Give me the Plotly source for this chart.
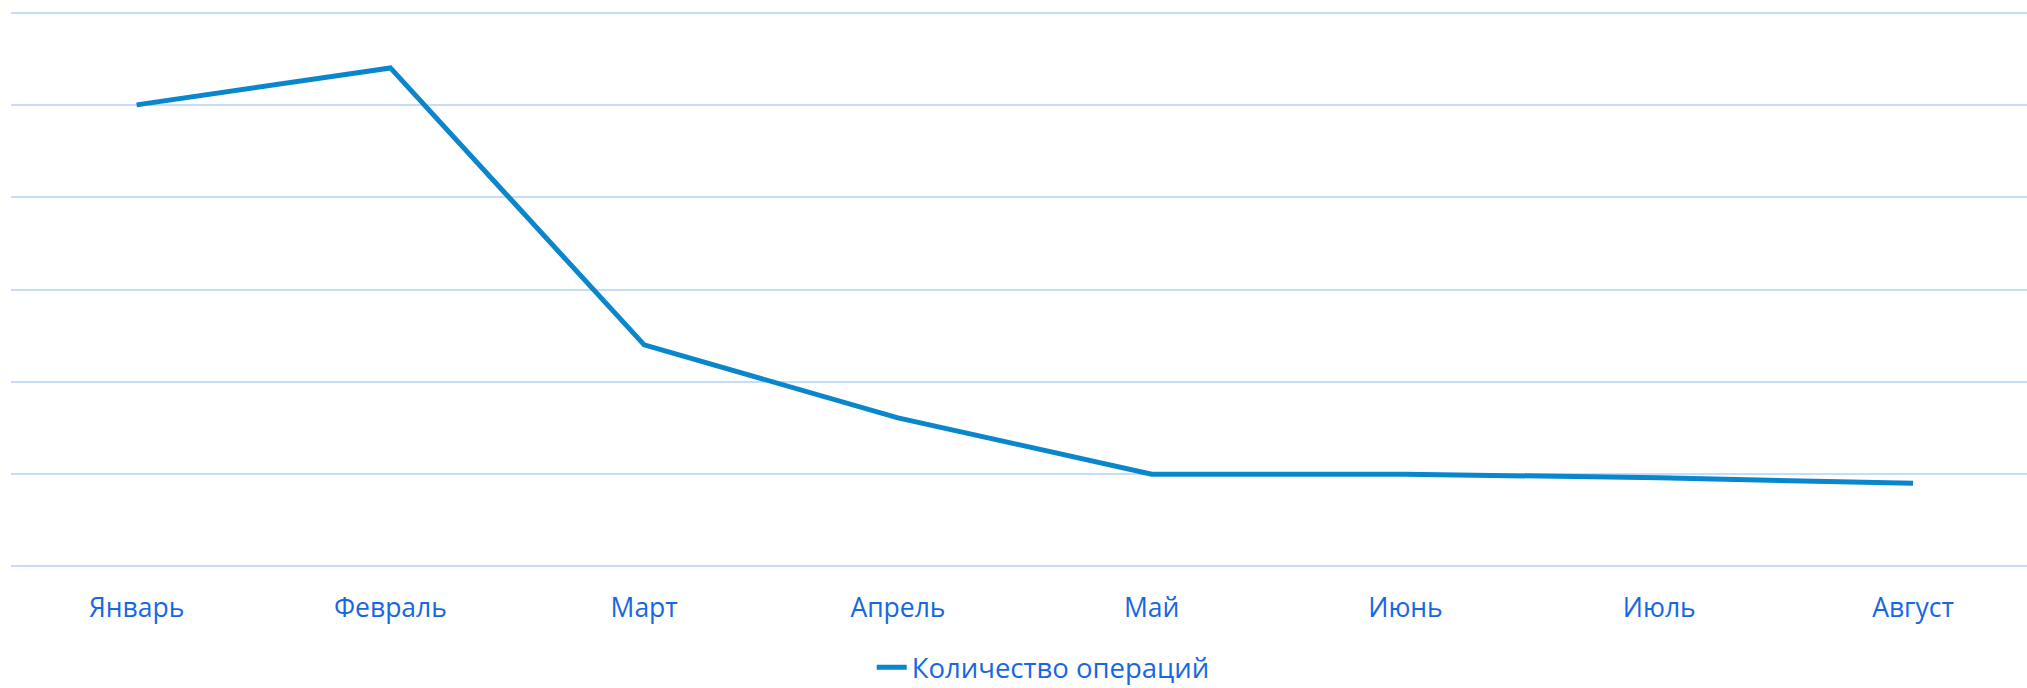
import plotly.graph_objects as go

months = ["Январь", "Февраль", "Март", "Апрель", "Май", "Июнь", "Июль", "Август"]
operations = [500, 540, 240, 161, 100, 100, 96, 90]
series_name = "Количество операций"

fig = go.Figure()
fig.add_trace(go.Scatter(
    x=months, y=operations, mode="lines", name=series_name,
    line=dict(color="#0A86CC", width=5),
))

fig.update_layout(
    width=2027, height=688,
    margin=dict(l=11, r=0, t=7, b=116),
    paper_bgcolor="white", plot_bgcolor="white",
    font=dict(family="Open Sans", size=26.5, color="#1767E0"),
    showlegend=True,
    legend=dict(orientation="h", x=0.512, xanchor="center",
                yref="container", y=0.03, yanchor="middle",
                font=dict(size=27.5, color="#1767E0")),
    xaxis=dict(
        range=[-0.495, 7.449], showgrid=False, showline=False, zeroline=False,
        ticks="", ticklabelstandoff=17, tickfont=dict(size=26.5, color="#1767E0"),
    ),
    yaxis=dict(
        range=[-6, 606], tickvals=[0, 100, 200, 300, 400, 500, 600],
        showticklabels=False, showgrid=True,
        gridcolor="#C6DDF7", gridwidth=1.6, zeroline=False, showline=False,
    ),
)
fig.write_html("out.html", post_script="document.body.style.margin='0';",
               config={"displayModeBar": False})
